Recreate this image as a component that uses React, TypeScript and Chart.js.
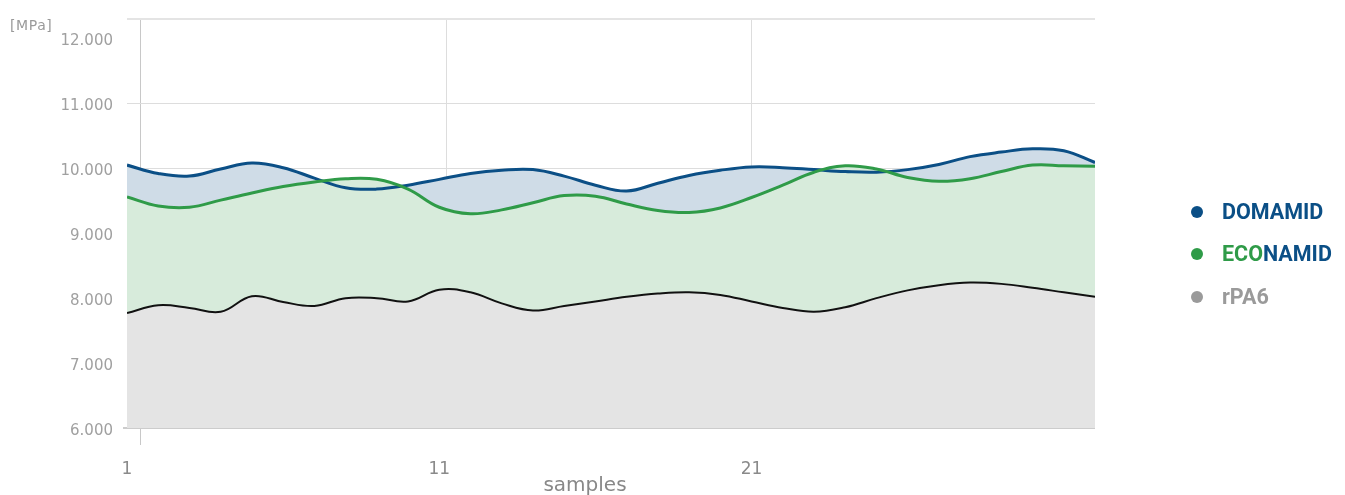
import React, { useEffect, useRef } from "react";
import { Chart, registerables } from "chart.js";

Chart.register(...registerables);

const SAMPLES = [1, 2, 3, 4, 5, 6, 7, 8, 9, 10, 11, 12, 13, 14, 15, 16, 17, 18, 19, 20, 21, 22, 23, 24, 25, 26, 27, 28, 29, 30, 31, 32];
const X_TICKS = [1, 11, 21];
const X_GRID = [1.42, 11.22, 21];
const Y_TICKS = [6000, 7000, 8000, 9000, 10000, 11000, 12000];
const Y_MIN = 6000;
const Y_MAX = 12300;

const DOMAMID = [10050, 9920, 9880, 9990, 10080, 10010, 9850, 9700, 9680, 9740, 9830, 9920, 9970, 9980, 9880, 9740, 9650, 9770, 9890, 9970, 10020, 10010, 9980, 9950, 9940, 9980, 10060, 10180, 10250, 10300, 10270, 10090];
const ECONAMID = [9560, 9420, 9400, 9510, 9620, 9720, 9790, 9840, 9830, 9680, 9400, 9300, 9360, 9470, 9580, 9570, 9450, 9350, 9320, 9390, 9550, 9740, 9940, 10040, 9990, 9860, 9800, 9840, 9950, 10050, 10040, 10030];
const RPA6 = [7770, 7890, 7850, 7790, 8030, 7940, 7880, 8000, 8000, 7950, 8130, 8090, 7920, 7810, 7880, 7950, 8020, 8070, 8090, 8050, 7950, 7850, 7790, 7860, 8000, 8120, 8200, 8240, 8220, 8160, 8090, 8020];

const BLUE = "#0b4f86";
const GREEN = "#2f9b48";
const GRAY = "#9a9a9a";

const fmt = (v: number) => String(Math.round(v)).replace(/\B(?=(\d{3})+(?!\d))/g, ".");

export default function App() {
  const ref = useRef<HTMLCanvasElement>(null);

  useEffect(() => {
    const pts = (arr: number[]) => arr.map((y, i) => ({ x: SAMPLES[i], y }));
    const chart = new Chart(ref.current as HTMLCanvasElement, {
      type: "line",
      data: {
        datasets: [
          { label: "DOMAMID", data: pts(DOMAMID), borderColor: BLUE, backgroundColor: "#cfdce7", borderWidth: 3, fill: "start", order: 3 },
          { label: "ECONAMID", data: pts(ECONAMID), borderColor: GREEN, backgroundColor: "#d7ebdb", borderWidth: 3, fill: "start", order: 2 },
          { label: "rPA6", data: pts(RPA6), borderColor: "#111111", backgroundColor: "#e4e4e4", borderWidth: 2, fill: "start", order: 1 },
        ],
      } as any,
      options: {
        animation: false,
        responsive: true,
        maintainAspectRatio: false,
        events: [],
        layout: { padding: { top: 18, right: 250, left: 0, bottom: 0 } },
        elements: { point: { radius: 0, hoverRadius: 0 }, line: { tension: 0.4 } },
        plugins: {
          legend: { display: false },
          tooltip: { enabled: false },
          filler: { drawTime: "beforeDatasetsDraw" },
        } as any,
        scales: {
          x: {
            type: "linear",
            position: "bottom",
            min: 1,
            max: 32,
            weight: 1,
            afterBuildTicks: (s: any) => {
              s.ticks = X_TICKS.map((v) => ({ value: v }));
            },
            afterFit: (s: any) => {
              s.height = 67;
            },
            grid: { display: false },
            border: { display: false },
            ticks: {
              padding: 23,
              color: "#8a8a8a",
              font: { family: "DejaVu Sans", size: 17 },
              maxRotation: 0,
              autoSkip: false,
              callback: (v: any) => String(v),
            },
          },
          xg: {
            type: "linear",
            position: "bottom",
            min: 1,
            max: 32,
            weight: 0,
            z: 1,
            afterBuildTicks: (s: any) => {
              s.ticks = X_GRID.map((v) => ({ value: v }));
            },
            afterFit: (s: any) => {
              s.height = 0;
            },
            ticks: { display: false },
            border: { display: false },
            grid: {
              color: (c: any) => (c.index === 0 ? "#c8c8c8" : "#dddddd"),
              lineWidth: 1,
              drawTicks: true,
              tickLength: 17,
              tickColor: (c: any) => (c.index === 0 ? "#c8c8c8" : "rgba(0,0,0,0)"),
            },
          },
          y: {
            type: "linear",
            min: Y_MIN,
            max: Y_MAX,
            z: 1,
            afterBuildTicks: (s: any) => {
              s.ticks = [...Y_TICKS, Y_MAX].map((v) => ({ value: v }));
            },
            afterFit: (s: any) => {
              s.width = 127;
            },
            border: { display: false },
            grid: {
              color: (c: any) => {
                const v = c.tick ? c.tick.value : 0;
                if (v === 12000) return "rgba(0,0,0,0)";
                if (v === Y_MAX) return "#e4e4e4";
                if (v === Y_MIN) return "#cccccc";
                return "#dddddd";
              },
              lineWidth: (c: any) => {
                const v = c.tick ? c.tick.value : 0;
                return v === Y_MAX || v === Y_MIN ? 2 : 1;
              },
              drawTicks: true,
              tickLength: 4,
              tickColor: (c: any) => (c.tick && c.tick.value === Y_MIN ? "#cccccc" : "rgba(0,0,0,0)"),
            },
            ticks: {
              padding: 10,
              labelOffset: 3,
              color: "#a0a0a0",
              font: { family: "DejaVu Sans", size: 15 },
              callback: (v: any) => (v === Y_MAX ? "" : fmt(Number(v))),
            },
          },
        } as any,
      },
    });
    return () => chart.destroy();
  }, []);

  const legend = [
    { parts: [{ t: "DOMAMID", c: BLUE }], dot: BLUE, y: 212 },
    { parts: [{ t: "ECO", c: GREEN }, { t: "NAMID", c: BLUE }], dot: GREEN, y: 254 },
    { parts: [{ t: "rPA6", c: GRAY }], dot: GRAY, y: 297 },
  ];

  return (
    <div style={{ position: "fixed", left: 0, top: 0, width: 1345, height: 495, background: "#ffffff" }}>
      <canvas ref={ref} />
      <div
        style={{
          position: "absolute",
          left: 10,
          top: 17,
          font: "14px 'DejaVu Sans', sans-serif",
          lineHeight: "16px",
          letterSpacing: "0.6px",
          color: "#9a9a9a",
          whiteSpace: "nowrap",
        }}
      >
        [MPa]
      </div>
      <div
        style={{
          position: "absolute",
          left: 485,
          width: 200,
          top: 474,
          textAlign: "center",
          font: "20px 'DejaVu Sans', sans-serif",
          lineHeight: "20px",
          color: "#888888",
        }}
      >
        samples
      </div>
      {legend.map((item, i) => (
        <div
          key={i}
          style={{
            position: "absolute",
            left: 1191,
            top: item.y - 13,
            height: 26,
            display: "flex",
            alignItems: "center",
            whiteSpace: "nowrap",
          }}
        >
          <span style={{ width: 12, height: 12, borderRadius: "50%", background: item.dot, display: "inline-block", marginRight: 19 }} />
          <span style={{ fontFamily: "Roboto, 'Liberation Sans', sans-serif", fontWeight: 700, fontSize: "21.5px", lineHeight: "26px" }}>
            {item.parts.map((p, j) => (
              <span key={j} style={{ color: p.c }}>
                {p.t}
              </span>
            ))}
          </span>
        </div>
      ))}
    </div>
  );
}
